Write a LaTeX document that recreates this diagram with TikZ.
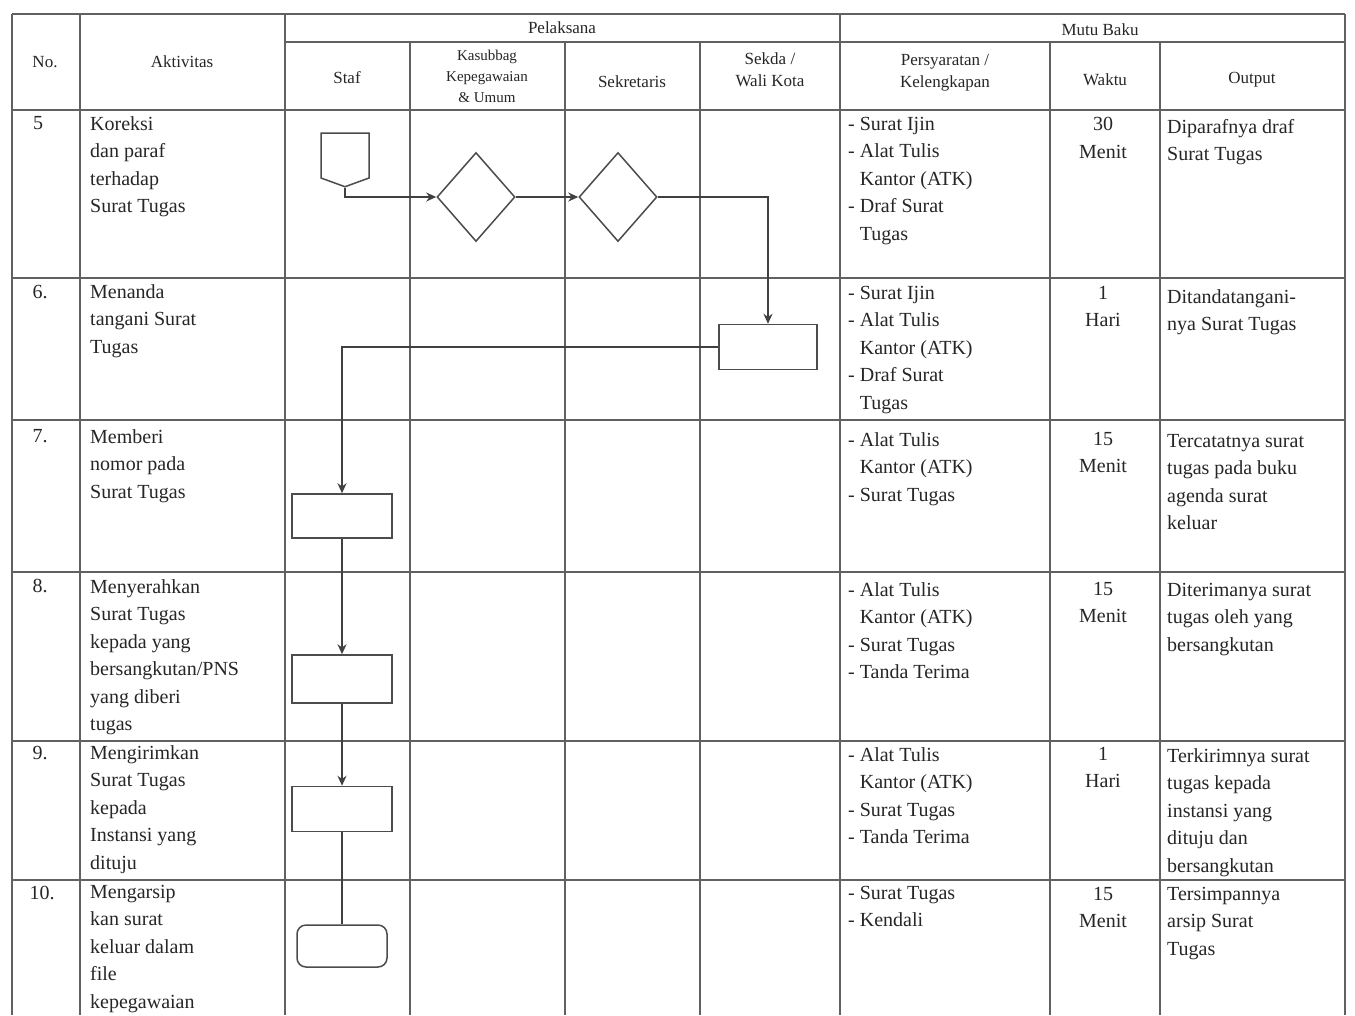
\documentclass[tikz,border=0pt]{standalone}
\usepackage{fontspec}
\setmainfont{Liberation Serif}
\usetikzlibrary{arrows.meta,shapes.geometric,shapes.symbols}
\begin{document}
\begin{tikzpicture}[x=1pt,y=-1pt,
  grid/.style={draw=black!62,line width=1.6pt},
  flow/.style={draw=black!75,line width=1.5pt},
  arr/.style={flow,-{Stealth[length=10pt,width=9pt]}},
  shp/.style={draw=black!70,line width=1.5pt,inner sep=0pt,fill=white},
  procbox/.style={shp,rectangle,minimum width=100pt,minimum height=45pt},
  dec/.style={shp,diamond,minimum width=78pt,minimum height=89pt},
  txt/.style={anchor=north west,inner sep=0pt,align=left,text=black!85,font=\fontsize{20}{27.5}\selectfont},
  ctxt/.style={anchor=north,inner sep=0pt,align=center,text=black!85,font=\fontsize{20}{27.5}\selectfont},
  htxt/.style={inner sep=0pt,align=center,text=black!85,font=\fontsize{17}{22}\selectfont},
]
\fill[white] (0,0) rectangle (1355,1015);
\useasboundingbox (0,0) rectangle (1355,1015);

% ---- grid ----
\draw[grid] (12,14) -- (1345,14);
\draw[grid] (285,42) -- (1345,42);
\draw[grid] (12,110) -- (1345,110);
\foreach \yy in {278,420,572,741,880} \draw[grid] (12,\yy) -- (1345,\yy);
\foreach \xx in {12,80,285,840,1345} \draw[grid] (\xx,14) -- (\xx,1015);
\foreach \xx in {410,565,700,1050,1160} \draw[grid] (\xx,42) -- (\xx,1015);

% ---- header ----
\node[htxt] (hno) at (45,62) {No.};
\node[htxt] (hakt) at (182,62) {Aktivitas};
\node[htxt] (hpel) at (562,28) {Pelaksana};
\node[htxt] (hstaf) at (347,78) {Staf};
\node[htxt,font=\fontsize{15}{21}\selectfont] (hkas) at (487,76) {Kasubbag\\Kepegawaian\\\& Umum};
\node[htxt] (hsek) at (632,82) {Sekretaris};
\node[htxt] (hkep) at (770,70) {Sekda /\\Wali Kota};
\node[htxt] (hmb) at (1100,30) {Mutu Baku};
\node[htxt] (hper) at (945,73) {Persyaratan /\\Kelengkapan};
\node[htxt] (hwak) at (1105,80) {Waktu};
\node[htxt] (hout) at (1252,80) {Output};

% ---- row 5 ----
\node[ctxt] (n5) at (38,116) {5};
\node[txt] (a5) at (90,116) {Koreksi\\dan paraf\\terhadap\\Surat Tugas};
\node[txt] (p5) at (848,117) {- Surat Ijin\\- Alat Tulis\\\hphantom{- }Kantor (ATK)\\- Draf Surat\\\hphantom{- }Tugas};
\node[ctxt] (w5) at (1103,117) {30\\Menit};
\node[txt] (o5) at (1167,119) {Diparafnya draf\\Surat Tugas};

% ---- row 6 ----
\node[ctxt] (n6) at (40,285) {6.};
\node[txt] (a6) at (90,284) {Menanda\\tangani Surat\\Tugas};
\node[txt] (p6) at (848,286) {- Surat Ijin\\- Alat Tulis\\\hphantom{- }Kantor (ATK)\\- Draf Surat\\\hphantom{- }Tugas};
\node[ctxt] (w6) at (1103,286) {1\\Hari};
\node[txt] (o6) at (1167,289) {Ditandatangani-\\nya Surat Tugas};

% ---- row 7 ----
\node[ctxt] (n7) at (40,429) {7.};
\node[txt] (a7) at (90,429) {Memberi\\nomor pada\\Surat Tugas};
\node[txt] (p7) at (848,432) {- Alat Tulis\\\hphantom{- }Kantor (ATK)\\- Surat Tugas};
\node[ctxt] (w7) at (1103,432) {15\\Menit};
\node[txt] (o7) at (1167,434) {Tercatatnya surat\\tugas pada buku\\agenda surat\\keluar};

% ---- row 8 ----
\node[ctxt] (n8) at (40,579) {8.};
\node[txt] (a8) at (90,579) {Menyerahkan\\Surat Tugas\\kepada yang\\bersangkutan/PNS\\yang diberi\\tugas};
\node[txt] (p8) at (848,582) {- Alat Tulis\\\hphantom{- }Kantor (ATK)\\- Surat Tugas\\- Tanda Terima};
\node[ctxt] (w8) at (1103,582) {15\\Menit};
\node[txt] (o8) at (1167,583) {Diterimanya surat\\tugas oleh yang\\bersangkutan};

% ---- row 9 ----
\node[ctxt] (n9) at (40,746) {9.};
\node[txt] (a9) at (90,745) {Mengirimkan\\Surat Tugas\\kepada\\Instansi yang\\dituju};
\node[txt] (p9) at (848,747) {- Alat Tulis\\\hphantom{- }Kantor (ATK)\\- Surat Tugas\\- Tanda Terima};
\node[ctxt] (w9) at (1103,747) {1\\Hari};
\node[txt] (o9) at (1167,748) {Terkirimnya surat\\tugas kepada\\instansi yang\\dituju dan\\bersangkutan};

% ---- row 10 ----
\node[ctxt] (n10) at (42,886) {10.};
\node[txt] (a10) at (90,885) {Mengarsip\\kan surat\\keluar dalam\\file\\kepegawaian};
\node[txt] (p10) at (848,886) {- Surat Tugas\\- Kendali};
\node[ctxt] (w10) at (1103,887) {15\\Menit};
\node[txt] (o10) at (1167,887) {Tersimpannya\\arsip Surat\\Tugas};

% ---- flow shapes ----
\node[shp,signal,signal to=south,signal from=nowhere,signal pointer angle=140,minimum width=48pt,minimum height=45pt] (start) at (345,155.5) {};
\node[dec] (d1) at (476,197) {};
\node[dec] (d2) at (618,197) {};
\node[procbox,minimum width=98pt] (b6) at (768,347) {};
\node[procbox,minimum height=44pt] (b7) at (342,516) {};
\node[procbox,minimum height=48pt] (b8) at (342,679) {};
\node[procbox] (b9) at (342,809) {};
\node[shp,rectangle,rounded corners=9pt,minimum width=90pt,minimum height=42pt] (b10) at (342,946) {};

% ---- connectors ----
\draw[arr] (start.south) |- (d1.west);
\draw[arr] (d1.east) -- (d2.west);
\draw[arr] (d2.east) -| (b6.north);
\draw[arr] (b6.west) -| (b7.north);
\draw[arr] (b7.south) -- (b8.north);
\draw[arr] (b8.south) -- (b9.north);
\draw[flow] (b9.south) -- (b10.north);
\end{tikzpicture}
\end{document}
